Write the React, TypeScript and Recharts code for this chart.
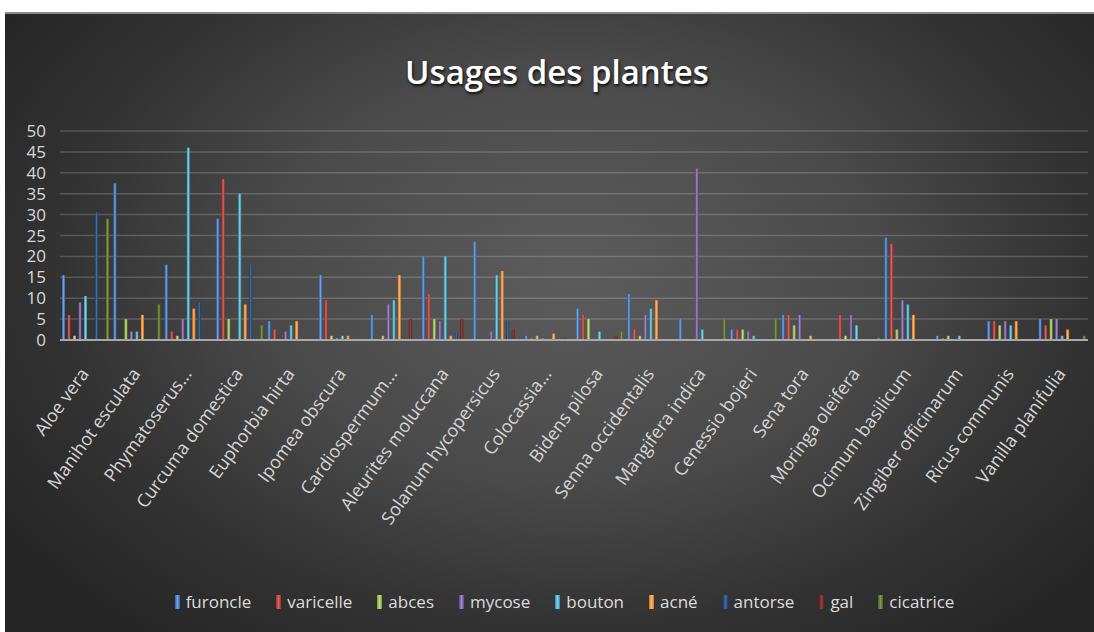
import { BarChart, Bar, XAxis, YAxis, CartesianGrid, Legend } from "recharts";

const categories = [
  "Aloe vera",
  "Manihot esculata",
  "Phymatoserus...",
  "Curcuma domestica",
  "Euphorbia hirta",
  "Ipomea obscura",
  "Cardiospermum...",
  "Aleurites moluccana",
  "Solanum hycopersicus",
  "Colocassia...",
  "Bidens pilosa",
  "Senna occidentalis",
  "Mangifera indica",
  "Cenessio bojeri",
  "Sena tora",
  "Moringa oleifera",
  "Ocimum basilicum",
  "Zingiber officinarum",
  "Ricus communis",
  "Vanilla planifulia",
];

const furoncle = [15.5, 37.5, 18, 29, 4.5, 15.5, 6, 20, 23.5, 1, 7.5, 11, 5, 2.5, 6, 0, 24.5, 1, 4.5, 5];
const varicelle = [6, 0, 2, 38.5, 2.5, 9.5, 0, 11, 0, 0.5, 6, 2.5, 0, 2.5, 6, 6, 23, 0.5, 4.5, 3.5];
const abces = [1, 5, 1, 5, 0, 1, 1, 5, 0, 1, 5, 1, 0, 2.5, 3.5, 1, 2.5, 1, 3.5, 5];
const mycose = [9, 2, 5, 0, 2, 0.5, 8.5, 4.5, 2, 0.5, 0, 6, 41, 2, 6, 6, 9.5, 0, 4.5, 5];
const bouton = [10.5, 2, 46, 35, 3.5, 1, 9.5, 20, 15.5, 0, 2, 7.5, 2.5, 1, 0, 3.5, 8.5, 1, 3.5, 1];
const acne = [0, 6, 7.5, 8.5, 4.5, 1, 15.5, 1, 16.5, 1.5, 0, 9.5, 0, 0, 1, 0, 6, 0, 4.5, 2.5];
const antorse = [30.5, 0, 9, 18, 0.5, 0.5, 0, 2, 4.5, 0.5, 0, 0, 0, 0, 0, 0, 0, 0, 0, 0];
const gal = [0, 0, 0, 0, 0, 0, 5, 5, 2.5, 0.5, 1, 0, 0, 0, 0, 0, 0, 0, 0, 0];
const cicatrice = [29, 8.5, 0, 3.5, 0, 0, 0, 0, 0, 0, 2, 0, 5, 5, 0, 0.5, 0, 0, 0, 1];

const seriesNames = ["furoncle", "varicelle", "abces", "mycose", "bouton", "acné", "antorse", "gal", "cicatrice"];
const seriesValues = [furoncle, varicelle, abces, mycose, bouton, acne, antorse, gal, cicatrice];
const yTicks = [0, 5, 10, 15, 20, 25, 30, 35, 40, 45, 50];

// [dark edge, light centre] per series
const COLORS = [
  ["#2f5f9e", "#6fa3e6"],
  ["#9a2f2c", "#e4605c"],
  ["#76923c", "#c3e07e"],
  ["#5c4580", "#a487cc"],
  ["#2d8aa3", "#7fd3ea"],
  ["#d0721f", "#ffb66e"],
  ["#193a63", "#3f6ea6"],
  ["#5e1f1d", "#9c3c39"],
  ["#4a5c23", "#7d9a44"],
];

const data = categories.map((name, i) => {
  const row: Record<string, string | number> = { name };
  seriesNames.forEach((s, k) => {
    row[s] = seriesValues[k][i];
  });
  return row;
});

const FONT = "'Open Sans', 'Noto Sans', sans-serif";

const PlantTick = ({ x, y, payload }: any) => (
  <g transform={`translate(${x + 4},${y + 26})`}>
    <text
      textAnchor="end"
      transform="rotate(-54)"
      fill="#d6d6d6"
      fontSize={18}
      fontFamily={FONT}
    >
      {payload.value}
    </text>
  </g>
);

const renderLegend = () => (
  <div
    style={{
      display: "flex",
      justifyContent: "center",
      gap: 25,
      fontFamily: FONT,
      fontSize: 17,
      color: "#dcdcdc",
    }}
  >
    {seriesNames.map((s, i) => (
      <span key={s} style={{ display: "flex", alignItems: "center", gap: 6 }}>
        <span
          style={{
            display: "inline-block",
            width: 5,
            height: 14,
            background: `linear-gradient(to right, ${COLORS[i][0]}, ${COLORS[i][1]}, ${COLORS[i][0]})`,
          }}
        />
        {s}
      </span>
    ))}
  </div>
);

export default function App() {
  return (
    <div style={{ position: "absolute", left: 0, top: 0, width: 1094, height: 632, background: "#fff" }}>
      <div
        style={{
          position: "absolute",
          left: 5,
          top: 12,
          width: 1089,
          height: 620,
          borderTop: "2px solid #8a8a8a",
          boxSizing: "border-box",
          background:
            "radial-gradient(ellipse 62% 75% at 52% 42%, #5c5c5c 0%, #4a4a4a 45%, #333333 75%, #262626 100%)",
        }}
      >
        <div
          style={{
            position: "absolute",
            left: 0,
            width: 1104,
            top: 35,
            textAlign: "center",
            fontFamily: FONT,
            fontWeight: 600,
            fontSize: 33,
            color: "#ffffff",
            textShadow: "1px 2px 3px rgba(0,0,0,0.85)",
          }}
        >
          Usages des plantes
        </div>
        <BarChart
          width={1089}
          height={618}
          data={data}
          margin={{ top: 117, right: 6, left: 20, bottom: 0 }}
          barCategoryGap={2}
          barGap={2.5}
          barSize={3}
        >
          <defs>
            {COLORS.map(([dark, light], i) => (
              <linearGradient key={i} id={`g${i}`} x1="0" y1="0" x2="1" y2="0">
                <stop offset="0%" stopColor={dark} />
                <stop offset="50%" stopColor={light} />
                <stop offset="100%" stopColor={dark} />
              </linearGradient>
            ))}
          </defs>
          <CartesianGrid vertical={false} stroke="rgba(255,255,255,0.18)" strokeWidth={1.5} />
          <XAxis
            dataKey="name"
            interval={0}
            height={292}
            tickLine={false}
            axisLine={{ stroke: "#a8a8a8", strokeWidth: 2 }}
            tick={<PlantTick />}
          />
          <YAxis
            width={35}
            domain={[0, 50]}
            ticks={yTicks}
            interval={0}
            tickLine={false}
            axisLine={false}
            tickMargin={8}
            tick={{ fill: "#d8d8d8", fontSize: 17, fontFamily: FONT }}
          />
          <Legend
            verticalAlign="middle"
            align="center"
            layout="horizontal"
            content={renderLegend}
            wrapperStyle={{ top: 576, left: 0, width: 1089, paddingLeft: 30, boxSizing: "border-box" }}
          />
          {seriesNames.map((s, i) => (
            <Bar key={s} dataKey={s} fill={`url(#g${i})`} isAnimationActive={false} />
          ))}
        </BarChart>
      </div>
    </div>
  );
}
